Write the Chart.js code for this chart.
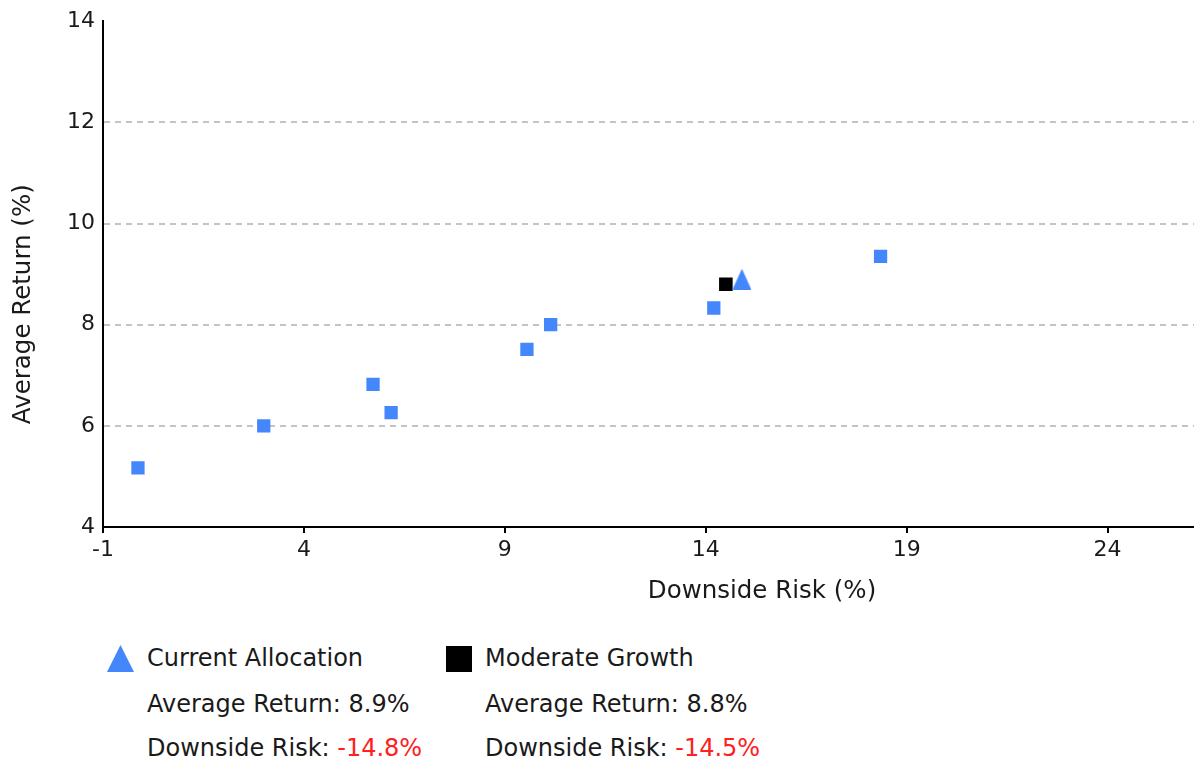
<!DOCTYPE html>
<html>
<head>
<meta charset="utf-8">
<title>Risk vs Return</title>
<script src="https://cdn.jsdelivr.net/npm/chart.js@4.4.1/dist/chart.umd.min.js"></script>
<style>
  html, body { margin: 0; padding: 0; background: #fff; overflow: hidden; }
  body { width: 1194px; height: 765px; position: relative; font-family: "DejaVu Sans", Verdana, sans-serif; color: #1a1a1a; }
  #wrap { position: absolute; left: 0; top: 0; width: 1194px; height: 615px; }
  .lg-icon { position: absolute; }
  .lg-tri { width: 27px; height: 27px; background: #4487fc; clip-path: polygon(50% 0, 100% 100%, 0 100%); }
  .lg-sq { width: 26px; height: 26px; background: #000; }
  .lg-text { position: absolute; font-size: 24px; line-height: 28px; white-space: nowrap; }
  .neg { color: #ff2020; }
</style>
</head>
<body>
<div id="wrap"><canvas id="chart"></canvas></div>
<div id="legend"></div>
<script>
// Portfolio points (downside risk %, average return %)
const portfolioRisk   = [-0.13, 3.0, 5.72, 6.17, 9.55, 10.14, 14.2, 18.35];
const portfolioReturn = [5.17, 6.0, 6.82, 6.26, 7.51, 8.0, 8.33, 9.35];

// Highlighted allocations
const highlightNames  = ['Current Allocation', 'Moderate Growth'];
const highlightRisk   = [14.8, 14.5];
const highlightReturn = [8.9, 8.8];

// Axis ticks
const xTicks = [-1, 4, 9, 14, 19, 24];
const yTicks = [4, 6, 8, 10, 12, 14];
const xRange = [-1, 26.15];
const yRange = [4, 14];

const xTitle = 'Downside Risk (%)';
const yTitle = 'Average Return (%)';

const BLUE = '#4487fc';
const FONT = '"DejaVu Sans", Verdana, sans-serif';

// Triangle marker image for the current allocation (drawn slightly right of its anchor)
function triangleMarker(w, h, shift, color) {
  const c = document.createElement('canvas');
  c.width = w + 2 * shift; c.height = h;
  const g = c.getContext('2d');
  const x0 = 2 * shift;
  g.fillStyle = color;
  g.beginPath();
  g.moveTo(x0 + w / 2, 0);
  g.lineTo(x0 + w, h);
  g.lineTo(x0, h);
  g.closePath();
  g.fill();
  return c;
}

// Axis titles placed under / beside the plot
const axisTitles = {
  id: 'axisTitles',
  afterDraw(chart) {
    const { ctx, chartArea: a } = chart;
    ctx.save();
    ctx.font = '24.5px ' + FONT;
    ctx.fillStyle = '#1a1a1a';
    ctx.textAlign = 'center';
    ctx.textBaseline = 'middle';
    ctx.fillText(xTitle, a.left + 659, a.bottom + 65);
    ctx.translate(a.left - 79, a.top + 283);
    ctx.rotate(-Math.PI / 2);
    ctx.fillText(yTitle, 0, 0);
    ctx.restore();
  }
};

const toPoints = (xs, ys) => xs.map((x, i) => ({ x: x, y: ys[i] }));

new Chart(document.getElementById('chart'), {
  type: 'scatter',
  data: {
    datasets: [
      {
        label: highlightNames[0],
        data: toPoints([highlightRisk[0]], [highlightReturn[0]]),
        pointStyle: triangleMarker(19, 21, 4, BLUE),
        backgroundColor: BLUE,
        borderWidth: 0
      },
      {
        label: highlightNames[1],
        data: toPoints([highlightRisk[1]], [highlightReturn[1]]),
        pointStyle: 'rect',
        pointRadius: 9.6,
        backgroundColor: '#000',
        borderWidth: 0
      },
      {
        label: 'Portfolios',
        data: toPoints(portfolioRisk, portfolioReturn),
        pointStyle: 'rect',
        pointRadius: 9.4,
        backgroundColor: BLUE,
        borderWidth: 0
      }
    ]
  },
  options: {
    responsive: true,
    maintainAspectRatio: false,
    animation: false,
    events: [],
    layout: { autoPadding: false, padding: { left: 0, top: 17, right: 0, bottom: 0 } },
    plugins: { legend: { display: false }, tooltip: { enabled: false } },
    scales: {
      x: {
        type: 'linear',
        min: xRange[0],
        max: xRange[1],
        afterBuildTicks: s => { s.ticks = xTicks.map(v => ({ value: v })); },
        afterFit: s => { s.height = 88; },
        border: { display: true, color: '#000', width: 2 },
        grid: { drawOnChartArea: false, drawTicks: true, tickLength: 6, tickColor: '#000', tickWidth: 2, color: '#000', lineWidth: 2 },
        ticks: { font: { family: FONT, size: 22 }, color: '#1a1a1a', padding: 4, maxRotation: 0 }
      },
      y: {
        type: 'linear',
        min: yRange[0],
        max: yRange[1],
        afterBuildTicks: s => { s.ticks = yTicks.map(v => ({ value: v })); },
        afterFit: s => { s.width = 103; },
        border: { display: true, color: '#000', width: 2, dash: [6, 5] },
        grid: {
          drawTicks: false,
          lineWidth: 2,
          color: c => (c.tick && (c.tick.value === yRange[0] || c.tick.value === yRange[1])) ? 'rgba(0,0,0,0)' : '#c4c4c4'
        },
        ticks: { font: { family: FONT, size: 22 }, color: '#1a1a1a', padding: 8 }
      }
    }
  },
  plugins: [axisTitles]
});

// Legend with the highlighted allocations
(function buildLegend() {
  const legend = document.getElementById('legend');
  const colIcon = [107, 446];
  const colText = [147, 485];
  const rows = [658, 704, 748];
  highlightNames.forEach((name, i) => {
    const icon = document.createElement('div');
    icon.className = 'lg-icon ' + (i === 0 ? 'lg-tri' : 'lg-sq');
    icon.style.left = colIcon[i] + 'px';
    icon.style.top = (i === 0 ? 645 : 646) + 'px';
    legend.appendChild(icon);

    const lines = [
      name,
      'Average Return: ' + highlightReturn[i].toFixed(1) + '%',
      'Downside Risk: <span class="neg">-' + highlightRisk[i].toFixed(1) + '%</span>'
    ];
    lines.forEach((html, r) => {
      const t = document.createElement('div');
      t.className = 'lg-text';
      t.style.left = colText[i] + 'px';
      t.style.top = (rows[r] - 14) + 'px';
      t.innerHTML = html;
      legend.appendChild(t);
    });
  });
})();
</script>
</body>
</html>
